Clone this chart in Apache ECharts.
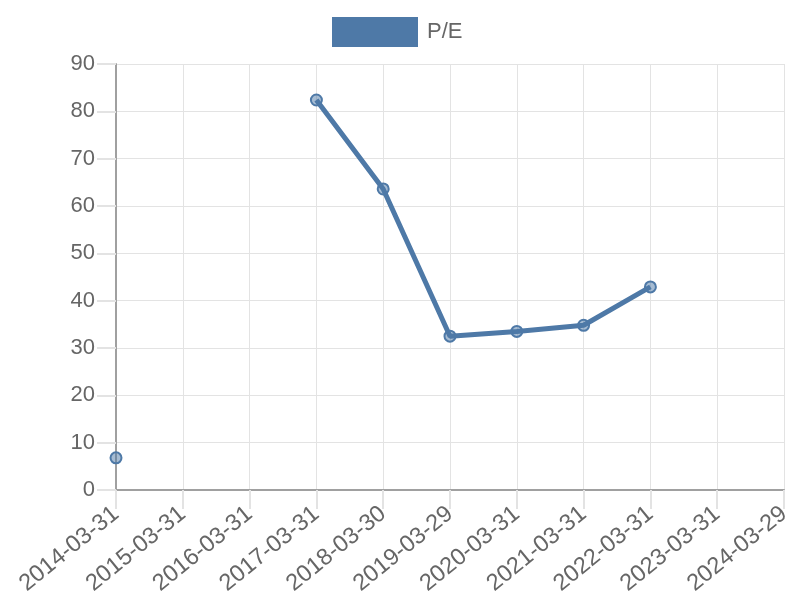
<!DOCTYPE html>
<html>
<head>
<meta charset="utf-8">
<script src="https://cdn.jsdelivr.net/npm/echarts@6/dist/echarts.min.js"></script>
<style>
  html, body { margin: 0; padding: 0; background: #fff; }
  #chart { width: 800px; height: 600px; }
</style>
</head>
<body>
<div id="chart"></div>
<script>
  // dates on the x axis
  var dates = ['2014-03-31', '2015-03-31', '2016-03-31', '2017-03-31', '2018-03-30',
    '2019-03-29', '2020-03-31', '2021-03-31', '2022-03-31', '2023-03-31', '2024-03-29']
  // P/E values, null where there is no point
  var peValues = [6.8, null, null, 82.4, 63.6, 32.5, 33.5, 34.8, 42.9, null, null]
  var yTicks = { min: 0, max: 90, step: 10 }

  var lineColor = '#4e79a7'
  var gridColor = '#e3e3e3'
  var axisColor = '#a0a0a0'
  var textColor = '#666'

  var chart = echarts.init(document.getElementById('chart'))
  chart.setOption({
    animation: false,
    textStyle: { fontFamily: 'Liberation Sans, Arial, sans-serif' },
    legend: {
      top: 17,
      left: 332,
      padding: 0,
      icon: 'rect',
      itemWidth: 86,
      itemHeight: 30,
      textStyle: { fontSize: 22, color: textColor, padding: [0, 0, 0, 4] },
      data: [{ name: 'P/E', itemStyle: { color: lineColor, borderWidth: 0, opacity: 1 } }]
    },
    grid: { left: 116, right: 16, top: 64, bottom: 110, containLabel: false },
    xAxis: {
      type: 'category',
      boundaryGap: false,
      data: dates,
      axisLine: { lineStyle: { color: axisColor, width: 2 } },
      axisTick: { show: true, length: 19, lineStyle: { color: gridColor, width: 2 } },
      splitLine: { show: true, lineStyle: { color: gridColor, width: 1 } },
      axisLabel: { interval: 0, rotate: 39, fontSize: 23.5, color: textColor, margin: 21 }
    },
    yAxis: {
      type: 'value',
      min: yTicks.min,
      max: yTicks.max,
      interval: yTicks.step,
      axisLine: { show: true, lineStyle: { color: axisColor, width: 2 } },
      axisTick: { show: true, length: 19, lineStyle: { color: gridColor, width: 2 } },
      splitLine: { show: true, lineStyle: { color: gridColor, width: 1 } },
      axisLabel: { fontSize: 22, color: textColor, margin: 21 }
    },
    series: [{
      name: 'P/E',
      type: 'line',
      data: peValues,
      connectNulls: false,
      showAllSymbol: true,
      symbol: 'circle',
      symbolSize: 11,
      lineStyle: { color: lineColor, width: 5 },
      itemStyle: { color: 'rgba(78,121,167,0.5)', borderColor: lineColor, borderWidth: 2 }
    }]
  })
</script>
</body>
</html>
